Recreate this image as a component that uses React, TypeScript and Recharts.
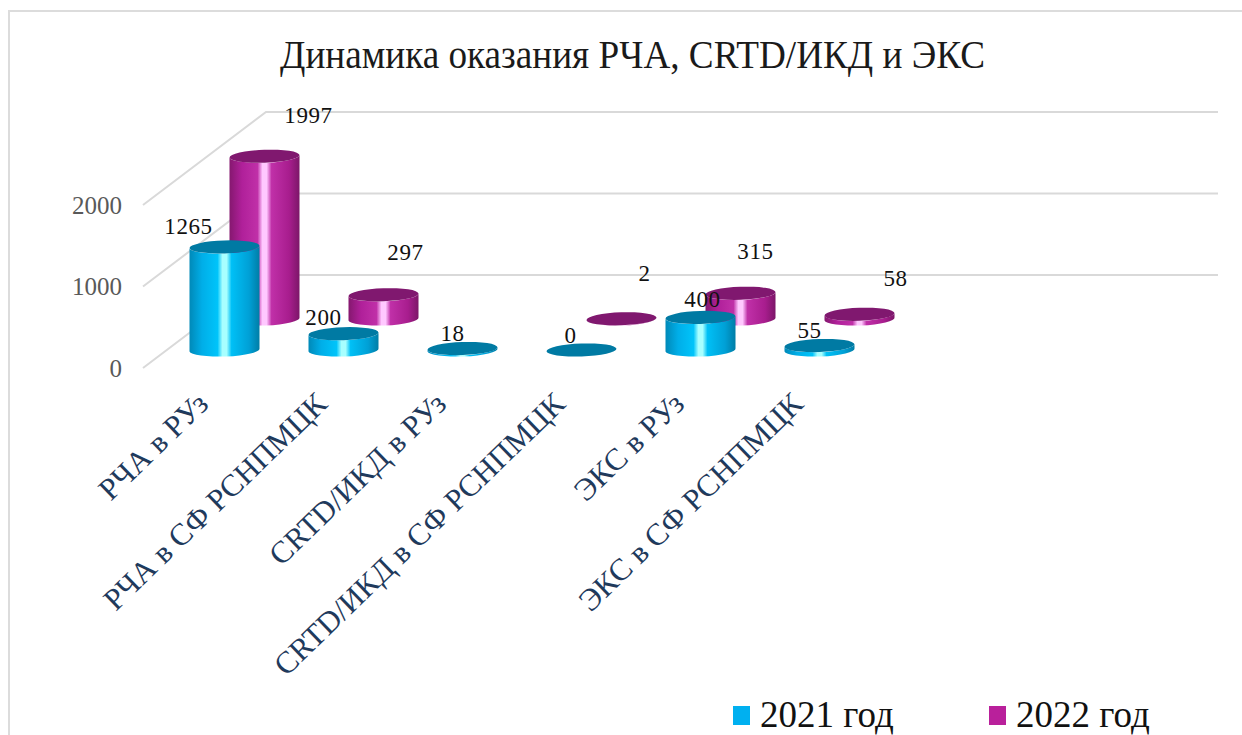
import { BarChart, Bar, XAxis, YAxis, CartesianGrid, LabelList, Legend } from 'recharts';

const categories = ['РЧА в РУз', 'РЧА в СФ РСНПМЦК', 'CRTD/ИКД в РУз', 'CRTD/ИКД в СФ РСНПМЦК', 'ЭКС в РУз', 'ЭКС в СФ РСНПМЦК'];
const values2021 = [1265, 200, 18, 0, 400, 55];
const values2022 = [1997, 297, null, 2, 315, 58];
const yTicks = [0, 1000, 2000];

// label nudges from the top of each cylinder, the source chart places them by hand
// LabelList skips the empty 2022 value, so that list has one entry less
const nudge2021 = [[-36, -20], [-20, -16], [-10, -15], [-11, -15], [2, -18], [-10, -15]];
const nudge2022 = [[44, -41], [22, -42], [23, -45], [15, -42], [36, -36]];

const data = categories.map((name, i) => ({ name, y2021: values2021[i], y2022: values2022[i] }));

const FONT = '"Liberation Serif", serif';
const BLUE = '#00b0f0';
const PURPLE = '#b9209b';
const BAR_W = 70;
const DEPTH_X = 40;
const DEPTH_Y = -31;

function Cylinder({ x, y, width, height, dx, dy, grad, cap }: any) {
  const rx = width / 2;
  const ry = 6.5;
  const tilt = 1.5;
  const left = x + dx;
  const right = left + width;
  const top = y + dy;
  const bottom = top + height;
  const side =
    `M${left},${top + tilt} L${left},${bottom + tilt} ` +
    `A${rx},${ry} -2 0 0 ${right},${bottom - tilt} L${right},${top - tilt} ` +
    `A${rx},${ry} -2 0 1 ${left},${top + tilt} Z`;
  return (
    <g>
      <path d={side} fill={`url(#${grad})`} />
      <ellipse cx={left + rx} cy={top} rx={rx} ry={ry} fill={cap} transform={`rotate(-2 ${left + rx} ${top})`} />
    </g>
  );
}

function BarLabel({ x, y, width, value, index, nudge, dx, dy }: any) {
  if (value == null) return null;
  const [nx, ny] = nudge[index];
  return (
    <text x={x + dx + width / 2 + nx} y={y + dy + ny} textAnchor="middle" dominantBaseline="central" fontFamily={FONT} fontSize={23} letterSpacing={0.6} fill="#111">
      {value}
    </text>
  );
}

function YTick({ y, payload }: any) {
  return (
    <text x={122} y={y + 18} textAnchor="end" dominantBaseline="central" fontFamily={FONT} fontSize={25} fill="#595959">
      {payload.value}
    </text>
  );
}

function XTick({ x, y, payload }: any) {
  return (
    <text transform={`translate(${x - 14},${y + 48}) rotate(-44)`} textAnchor="end" fontFamily={FONT} fontSize={31} fill="#1f3a5c">
      {payload.value}
    </text>
  );
}

function WallLine({ y1 }: any) {
  const front = y1 + 18;
  const back = front - 93;
  return <path d={`M143,${front} L266,${back} L1218,${back}`} fill="none" stroke="#d9d9d9" strokeWidth={2} />;
}

function LegendRow({ payload }: any) {
  return (
    <div style={{ display: 'flex', fontFamily: FONT, fontSize: 37, color: '#111', lineHeight: '42px' }}>
      {(payload || []).map((item: any) => (
        <div key={item.value} style={{ display: 'flex', alignItems: 'center', width: 256 }}>
          <span style={{ width: 17, height: 19, background: item.color, marginRight: 10, display: 'inline-block' }} />
          {item.value}
        </div>
      ))}
    </div>
  );
}

export default function App() {
  return (
    <div style={{ position: 'absolute', left: 0, top: 0, width: 1242, height: 735, overflow: 'hidden', background: '#fff' }}>
      <BarChart
        width={1242}
        height={735}
        data={data}
        barSize={BAR_W}
        barGap={-BAR_W}
        margin={{ top: 187, left: 104.5, right: 363.5, bottom: 335 }}
      >
        <rect x={9} y={11} width={1260} height={760} fill="none" stroke="#dcdcdc" strokeWidth={2} />
        <text x={280} y={68} textLength={705} lengthAdjust="spacingAndGlyphs" fontFamily={FONT} fontSize={40} fill="#1a1a1a">
          Динамика оказания РЧА, CRTD/ИКД и ЭКС
        </text>
        <defs>
          <linearGradient id="gradBlue" x1="0" y1="0" x2="1" y2="0">
            <stop offset="0" stopColor="#0089b8" />
            <stop offset="0.18" stopColor="#00aee8" />
            <stop offset="0.4" stopColor="#00c4fa" />
            <stop offset="0.47" stopColor="#a8ffff" />
            <stop offset="0.53" stopColor="#a8ffff" />
            <stop offset="0.6" stopColor="#00c0f6" />
            <stop offset="0.85" stopColor="#00a0d6" />
            <stop offset="1" stopColor="#007da6" />
          </linearGradient>
          <linearGradient id="gradPurple" x1="0" y1="0" x2="1" y2="0">
            <stop offset="0" stopColor="#85186f" />
            <stop offset="0.18" stopColor="#b0209a" />
            <stop offset="0.4" stopColor="#c030a8" />
            <stop offset="0.47" stopColor="#ffc8ff" />
            <stop offset="0.53" stopColor="#ffc8ff" />
            <stop offset="0.6" stopColor="#c030a8" />
            <stop offset="0.85" stopColor="#a81d8e" />
            <stop offset="1" stopColor="#7c1668" />
          </linearGradient>
        </defs>
        <CartesianGrid vertical={false} horizontal={<WallLine />} />
        <XAxis dataKey="name" height={50} interval={0} axisLine={false} tickLine={false} tick={<XTick />} />
        <YAxis width={60} domain={[0, 2000]} ticks={yTicks} axisLine={false} tickLine={false} tick={<YTick />} />
        <Legend
          layout="horizontal"
          verticalAlign="middle"
          align="center"
          content={<LegendRow />}
          wrapperStyle={{ position: 'absolute', left: 733, top: 694, width: 520, height: 44 }}
        />
        <Bar
          dataKey="y2022"
          name="2022 год"
          fill={PURPLE}
          isAnimationActive={false}
          shape={(p: any) => <Cylinder {...p} dx={DEPTH_X} dy={DEPTH_Y} grad="gradPurple" cap="#80186f" />}
        >
          <LabelList dataKey="y2022" content={<BarLabel nudge={nudge2022} dx={DEPTH_X} dy={DEPTH_Y} />} />
        </Bar>
        <Bar
          dataKey="y2021"
          name="2021 год"
          fill={BLUE}
          isAnimationActive={false}
          shape={(p: any) => <Cylinder {...p} dx={0} dy={0} grad="gradBlue" cap="#007aa3" />}
        >
          <LabelList dataKey="y2021" content={<BarLabel nudge={nudge2021} dx={0} dy={0} />} />
        </Bar>
      </BarChart>
    </div>
  );
}
